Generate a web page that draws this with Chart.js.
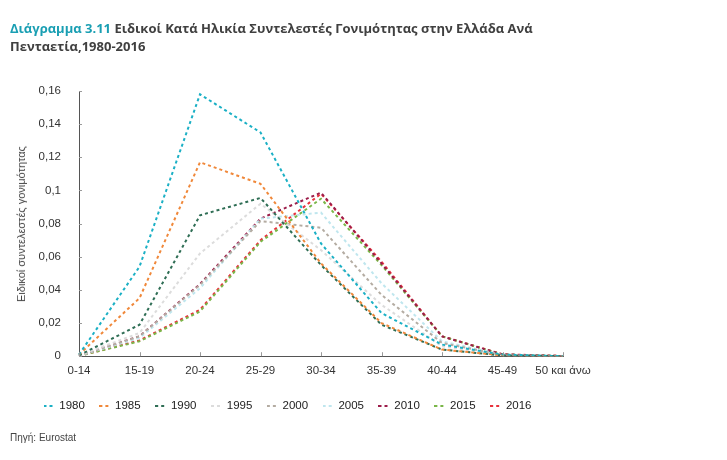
<!DOCTYPE html>
<html><head><meta charset="utf-8">
<script src="https://cdn.jsdelivr.net/npm/chart.js@4.4.0/dist/chart.umd.min.js"></script>
<style>
body{margin:0;background:#fff;width:727px;height:460px;position:relative;overflow:hidden;font-family:'Open Sans',sans-serif}
#wrap{position:absolute;left:0;top:0;width:727px;height:460px}
#title{position:absolute;left:10px;top:19px;font-weight:bold;font-size:13px;line-height:18px;color:#404040;width:620px}
#title span{color:#1a9fb3}
#ytitle{position:absolute;left:21px;top:224px;transform:translate(-50%,-50%) rotate(-90deg);white-space:nowrap;font-size:11px;color:#444;font-family:'Liberation Sans',sans-serif}
#src{position:absolute;left:10px;top:432px;font-size:10px;color:#444;font-family:'Liberation Sans',sans-serif}
</style></head><body>
<div id="wrap"><canvas id="c" width="727" height="460"></canvas></div>
<div id="title"><span>Διάγραμμα 3.11</span> Ειδικοί Κατά Ηλικία Συντελεστές Γονιμότητας στην Ελλάδα Ανά<br>Πενταετία,1980-2016</div>
<div id="ytitle">Ειδικοί συντελεστές γονιμότητας</div>
<div id="src">Πηγή: Eurostat</div>
<script>
const ageGroups = ['0-14','15-19','20-24','25-29','30-34','35-39','40-44','45-49','50 και άνω'];
const years = ['1980','1985','1990','1995','2000','2005','2010','2015','2016'];
const s1980 = [0.001,0.054,0.158,0.135,0.068,0.026,0.007,0.001,0];
const s1985 = [0.001,0.035,0.117,0.104,0.056,0.020,0.004,0.0005,0];
const s1990 = [0.0005,0.019,0.085,0.0955,0.055,0.019,0.004,0.0004,0];
const s1995 = [0.0005,0.014,0.062,0.092,0.064,0.031,0.006,0.0005,0];
const s2000 = [0.0003,0.012,0.043,0.0815,0.0775,0.037,0.008,0.0006,0];
const s2005 = [0.0003,0.011,0.041,0.083,0.0866,0.044,0.009,0.0008,0];
const s2010 = [0.0003,0.012,0.0435,0.083,0.0987,0.056,0.012,0.001,0.0001];
const s2015 = [0.0002,0.009,0.027,0.069,0.095,0.055,0.012,0.001,0.0001];
const s2016 = [0.0002,0.0095,0.028,0.070,0.098,0.057,0.012,0.0012,0.0001];
const yTickLabels = ['0','0,02','0,04','0,06','0,08','0,1','0,12','0,14','0,16'];
const colors = ['#1bb0c5','#f0883a','#2f6e55','#dcdcdc','#b4aca2','#bfe6ee','#9c1d4a','#7ab648','#e8323c'];
const series = [s1980,s1985,s1990,s1995,s2000,s2005,s2010,s2015,s2016];

function dashIcon(color){
  const cv=document.createElement('canvas'); cv.width=10; cv.height=2;
  const c=cv.getContext('2d'); c.fillStyle=color; c.fillRect(0,0,3,2); c.fillRect(6,0,3,2);
  return cv;
}

const innerTicks = {id:'innerTicks', afterDraw(chart){
  const {ctx, scales:{x,y}, chartArea:a} = chart;
  ctx.save(); ctx.strokeStyle='#9a9a9a'; ctx.lineWidth=1;
  x.ticks.forEach((t,i)=>{const px=Math.round(x.getPixelForTick(i))+0.5; ctx.beginPath(); ctx.moveTo(px,a.bottom); ctx.lineTo(px,a.bottom-4); ctx.stroke();});
  y.ticks.forEach((t,i)=>{const py=Math.round(y.getPixelForTick(i))+0.5; ctx.beginPath(); ctx.moveTo(a.left,py); ctx.lineTo(a.left+3,py); ctx.stroke();});
  ctx.restore();
}};

new Chart(document.getElementById('c'), {
  type:'line',
  data:{labels:ageGroups, datasets: years.map((yr,i)=>({
    label:yr, data:series[i], borderColor:colors[i], backgroundColor:colors[i],
    borderWidth:2, borderDash:[3,3], pointRadius:0, pointStyle:dashIcon(colors[i]), tension:0, fill:false
  }))},
  options:{
    responsive:false, animation:false,
    layout:{padding:{left:29,right:164,top:91,bottom:38}},
    plugins:{
      legend:{position:'bottom', align:'start', labels:{usePointStyle:true, pointStyleWidth:10, font:{family:'Liberation Sans', size:11.5}, color:'#222', padding:14.5}},
      tooltip:{enabled:false}
    },
    scales:{
      x:{offset:false, grid:{display:false, drawTicks:false}, border:{display:true,color:'#555',width:1},
         ticks:{padding:8, maxRotation:0, autoSkip:false, font:{family:'Liberation Sans', size:11.5}, color:'#333'}},
      y:{min:0,max:0.16, grid:{display:false, drawTicks:false}, border:{display:true,color:'#555',width:1},
         afterFit:(s)=>{s.width=50;},
         ticks:{stepSize:0.02, padding:18, font:{family:'Liberation Sans', size:11.5}, color:'#333',
           callback:(v,i)=>yTickLabels[i]}}
    }
  },
  plugins:[innerTicks]
});
</script>
</body></html>
